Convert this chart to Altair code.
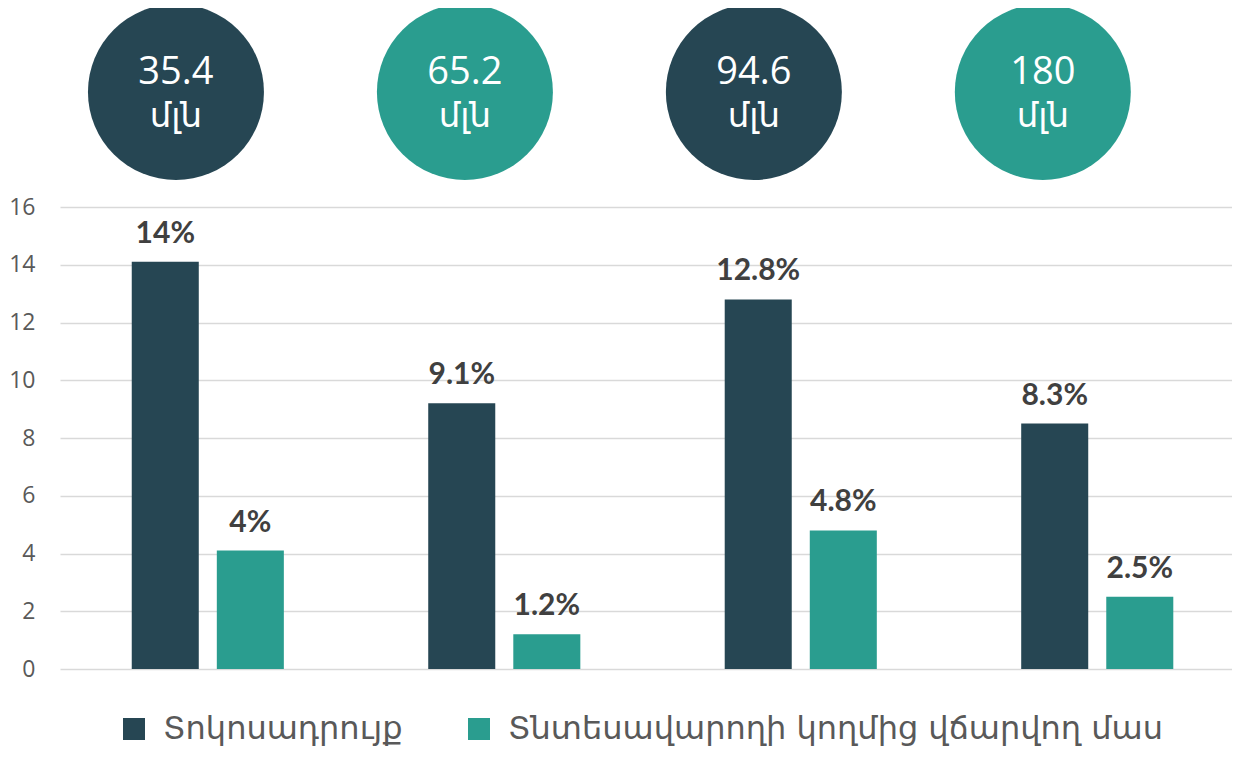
import altair as alt
import pandas as pd

groups = ["1", "2", "3", "4"]
series = ["Տոկոսադրույք", "Տնտեսավարողի կողմից վճարվող մաս"]
rate_values = [14.1, 9.2, 12.8, 8.5]
share_values = [4.1, 1.2, 4.8, 2.5]
rate_labels = ["14%", "9.1%", "12.8%", "8.3%"]
share_labels = ["4%", "1.2%", "4.8%", "2.5%"]
bubble_values = ["35.4", "65.2", "94.6", "180"]
bubble_unit = "մլն"
bubble_kind = ["dark", "teal", "dark", "teal"]
y_ticks = [0, 2, 4, 6, 8, 10, 12, 14, 16]

DARK = "#264653"
TEAL = "#2a9d8f"

rows = []
for g, v, l in zip(groups, rate_values, rate_labels):
    rows.append({"group": g, "series": series[0], "value": v, "label": l})
for g, v, l in zip(groups, share_values, share_labels):
    rows.append({"group": g, "series": series[1], "value": v, "label": l})
df = pd.DataFrame(rows)

bdf = pd.DataFrame({"bubble": groups, "num": bubble_values,
                    "unit": [bubble_unit] * 4, "kind": bubble_kind})

x_enc = alt.X("group:N", sort=groups, axis=None,
              scale=alt.Scale(paddingInner=0.487, paddingOuter=0.22, align=0.55))
xoff_enc = alt.XOffset("series:N", sort=series,
                       scale=alt.Scale(paddingInner=0.212, paddingOuter=0))
y_enc = alt.Y("value:Q", scale=alt.Scale(domain=[0, 16], nice=False),
              axis=alt.Axis(values=y_ticks, grid=True, domain=False, ticks=False,
                            labelFontSize=23, labelColor="#595959", labelFont="Open Sans",
                            labelPadding=25, gridColor="#d9d9d9", gridWidth=1.5,
                            title=None))

bars = alt.Chart(df).mark_bar().encode(
    x=x_enc, xOffset=xoff_enc, y=y_enc,
    color=alt.Color("series:N", sort=series,
                    scale=alt.Scale(domain=series, range=[DARK, TEAL]),
                    legend=alt.Legend(title=None, orient="none", legendX=58, legendY=506,
                                      direction="horizontal", symbolType="square",
                                      symbolSize=484, symbolStrokeWidth=0,
                                      labelFont="DejaVu Sans", labelFontSize=32,
                                      labelColor="#595959", labelOffset=13,
                                      labelLimit=1000, columnPadding=60))
)

labels = alt.Chart(df).mark_text(baseline="bottom", dy=-13, fontSize=30, fontWeight="bold",
                                 font="Lato", color="#404040").encode(
    x=x_enc, xOffset=xoff_enc, y=y_enc, text="label:N"
)

bx = alt.X("bubble:N", sort=groups, axis=None,
           scale=alt.Scale(type="point", padding=0.528, align=0.38))

circles = alt.Chart(bdf).mark_circle(size=30976, opacity=1).encode(
    x=bx, y=alt.value(-115),
    fill=alt.Fill("kind:N", scale=alt.Scale(domain=["dark", "teal"], range=[DARK, TEAL]),
                  legend=None)
)
nums = alt.Chart(bdf).mark_text(fontSize=38, font="Open Sans", color="white",
                                baseline="middle").encode(
    x=bx, y=alt.value(-134), text="num:N")
units = alt.Chart(bdf).mark_text(fontSize=34, font="DejaVu Sans", color="white",
                                 baseline="middle").encode(
    x=bx, y=alt.value(-90), text="unit:N")

bar_layer = alt.layer(bars, labels)
bubble_layer = alt.layer(circles, nums, units)

chart = alt.layer(bar_layer, bubble_layer).resolve_scale(
    x="independent", fill="independent", color="independent"
).properties(
    width=1172, height=462,
    autosize=alt.AutoSizeParams(type="none"),
    padding={"left": 52, "top": 199, "right": 0, "bottom": 80},
    background="white"
).configure_view(stroke=None)

chart.save("out.html", embed_options={"renderer": "svg", "actions": False})
